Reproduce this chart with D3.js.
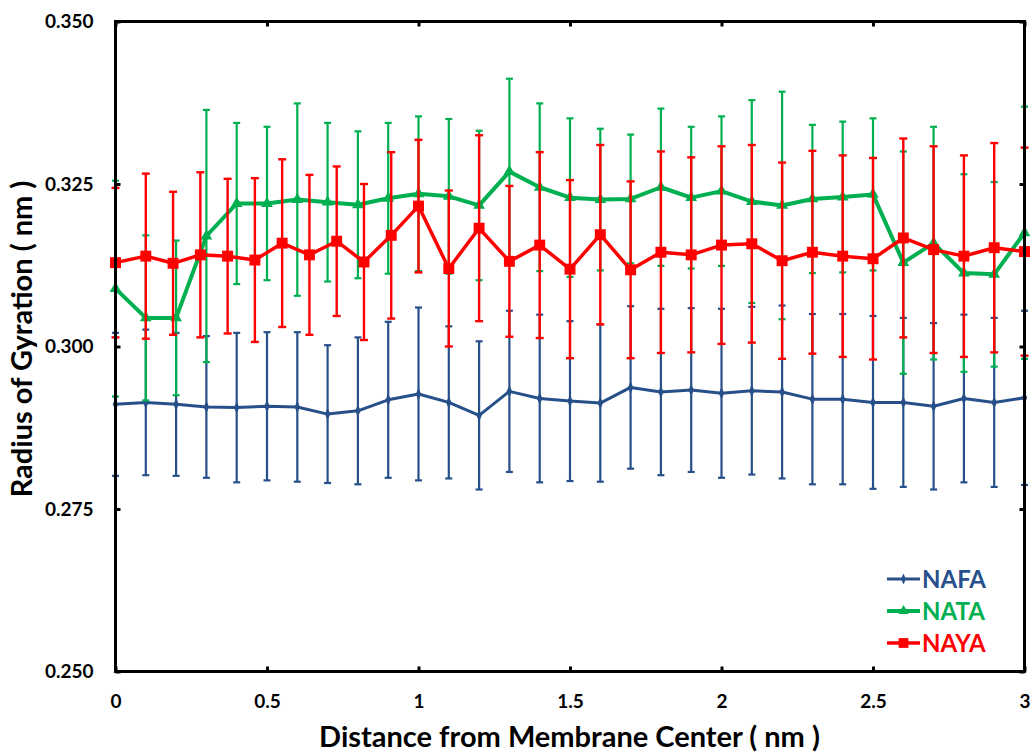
<!DOCTYPE html>
<html>
<head>
<meta charset="utf-8">
<script src="https://cdn.jsdelivr.net/npm/d3@7"></script>
<style>
  html, body { margin: 0; padding: 0; background: #fff; }
  svg { display: block; font-family: Lato, "Open Sans", sans-serif; }
</style>
</head>
<body>
<svg id="chart" width="1031" height="752"></svg>
<script>
// Distance from the membrane centre (nm) for NAFA and NATA
const distance = [0, 0.1, 0.2, 0.3, 0.4, 0.5, 0.6, 0.7, 0.8, 0.9, 1.0,
  1.1, 1.2, 1.3, 1.4, 1.5, 1.6, 1.7, 1.8, 1.9, 2.0,
  2.1, 2.2, 2.3, 2.4, 2.5, 2.6, 2.7, 2.8, 2.9, 3.0];
// NAYA was sampled on a finer grid below 1 nm
const distanceNaya = [0, 0.1, 0.19, 0.28, 0.37, 0.46, 0.55, 0.64, 0.73, 0.82, 0.91, 1.0,
  1.1, 1.2, 1.3, 1.4, 1.5, 1.6, 1.7, 1.8, 1.9, 2.0,
  2.1, 2.2, 2.3, 2.4, 2.5, 2.6, 2.7, 2.8, 2.9, 3.0];

// Radius of gyration (nm) and standard deviation
const nafa = [0.2911, 0.2914, 0.2911, 0.2907, 0.2906, 0.2908, 0.2907, 0.2896, 0.2901, 0.2918, 0.2927,
  0.2914, 0.2894, 0.2931, 0.2920, 0.2916, 0.2913, 0.2937, 0.2930, 0.2933, 0.2928,
  0.2932, 0.2930, 0.2919, 0.2919, 0.2914, 0.2914, 0.2908, 0.2920, 0.2914, 0.2921];
const nafaErr = [0.0110, 0.0112, 0.0110, 0.0109, 0.0115, 0.0114, 0.0115, 0.0106, 0.0113, 0.0120, 0.0133,
  0.0117, 0.0114, 0.0124, 0.0129, 0.0123, 0.0121, 0.0125, 0.0128, 0.0126, 0.0130,
  0.0129, 0.0133, 0.0131, 0.0131, 0.0133, 0.0130, 0.0128, 0.0129, 0.0130, 0.0134];

const nata = [0.3089, 0.3044, 0.3044, 0.3170, 0.3220, 0.3220, 0.3226, 0.3222, 0.3218, 0.3228, 0.3235,
  0.3231, 0.3217, 0.3269, 0.3245, 0.3229, 0.3226, 0.3227, 0.3245, 0.3229, 0.3239,
  0.3223, 0.3217, 0.3227, 0.3230, 0.3234, 0.3129, 0.3159, 0.3113, 0.3111, 0.3175];
const nataErr = [0.0166, 0.0127, 0.0119, 0.0194, 0.0124, 0.0118, 0.0148, 0.0122, 0.0113, 0.0116, 0.0119,
  0.0119, 0.0115, 0.0143, 0.0129, 0.0122, 0.0109, 0.0099, 0.0121, 0.0109, 0.0115,
  0.0156, 0.0175, 0.0114, 0.0116, 0.0117, 0.0171, 0.0179, 0.0152, 0.0142, 0.0194];

const naya = [0.3129, 0.3139, 0.3128, 0.3141, 0.3139, 0.3133, 0.3159, 0.3141, 0.3162, 0.3130, 0.3171, 0.3216,
  0.3120, 0.3182, 0.3131, 0.3156, 0.3119, 0.3172, 0.3118, 0.3145, 0.3141, 0.3156,
  0.3158, 0.3132, 0.3145, 0.3139, 0.3135, 0.3167, 0.3149, 0.3139, 0.3152, 0.3146];
const nayaErr = [0.0115, 0.0127, 0.0110, 0.0127, 0.0119, 0.0126, 0.0129, 0.0123, 0.0115, 0.0120, 0.0128, 0.0102,
  0.0120, 0.0143, 0.0116, 0.0143, 0.0137, 0.0138, 0.0136, 0.0155, 0.0150, 0.0152,
  0.0152, 0.0151, 0.0156, 0.0155, 0.0155, 0.0153, 0.0159, 0.0155, 0.0161, 0.0160];

const seriesNames = ["NAFA", "NATA", "NAYA"];
const xTicks = [0, 0.5, 1, 1.5, 2, 2.5, 3];
const yTicks = [0.250, 0.275, 0.300, 0.325, 0.350];

const series = [
  { name: seriesNames[0], x: distance, y: nafa, err: nafaErr, color: "#27508a",
    width: 3, errWidth: 2.2, cap: 7, symbol: d3.symbolDiamond, size: 45, scaleX: 0.75 },
  { name: seriesNames[1], x: distance, y: nata, err: nataErr, color: "#00b050",
    width: 4, errWidth: 2.2, cap: 7, symbol: d3.symbolTriangle, size: 60, scaleX: 1 },
  { name: seriesNames[2], x: distanceNaya, y: naya, err: nayaErr, color: "#ff0000",
    width: 3.5, errWidth: 2.4, cap: 8, symbol: d3.symbolSquare, size: 120, scaleX: 1 }
];

const svg = d3.select("#chart");
const plot = { left: 115.5, right: 1024.5, top: 21.5, bottom: 671.5 };

const x = d3.scaleLinear().domain([0, 3]).range([plot.left, plot.right]);
const y = d3.scaleLinear().domain([0.25, 0.35]).range([plot.bottom, plot.top]);

// Series: error bars, line, markers
series.forEach(s => {
  const g = svg.append("g");
  const pts = s.x.map((d, i) => ({ x: d, y: s.y[i], e: s.err[i] }));

  const eb = g.append("g").attr("stroke", s.color).attr("stroke-width", s.errWidth);
  pts.forEach(p => {
    const cx = x(p.x), y1 = y(p.y + p.e), y2 = y(p.y - p.e);
    eb.append("line").attr("x1", cx).attr("x2", cx).attr("y1", y1).attr("y2", y2);
    eb.append("line").attr("x1", cx - s.cap / 2).attr("x2", cx + s.cap / 2).attr("y1", y1).attr("y2", y1);
    eb.append("line").attr("x1", cx - s.cap / 2).attr("x2", cx + s.cap / 2).attr("y1", y2).attr("y2", y2);
  });

  g.append("path")
    .datum(pts)
    .attr("fill", "none")
    .attr("stroke", s.color)
    .attr("stroke-width", s.width)
    .attr("stroke-linejoin", "round")
    .attr("d", d3.line().x(d => x(d.x)).y(d => y(d.y)));

  g.selectAll("path.mk")
    .data(pts)
    .join("path")
    .attr("class", "mk")
    .attr("fill", s.color)
    .attr("transform", d => `translate(${x(d.x)},${y(d.y)}) scale(${s.scaleX},1)`)
    .attr("d", d3.symbol().type(s.symbol).size(s.size));
});

// Frame with inward ticks on all four sides
const frame = svg.append("g").attr("stroke", "#000");
frame.append("rect")
  .attr("x", plot.left).attr("y", plot.top)
  .attr("width", plot.right - plot.left).attr("height", plot.bottom - plot.top)
  .attr("fill", "none").attr("stroke-width", 3);

const bottomAxis = svg.append("g")
  .attr("transform", `translate(0,${plot.bottom})`)
  .call(d3.axisBottom(x).tickValues(xTicks).tickSize(-5).tickPadding(23).tickFormat(d3.format("")));
const topAxis = svg.append("g")
  .attr("transform", `translate(0,${plot.top})`)
  .call(d3.axisTop(x).tickValues(xTicks).tickSize(-5).tickFormat(""));
const leftAxis = svg.append("g")
  .attr("transform", `translate(${plot.left},0)`)
  .call(d3.axisLeft(y).tickValues(yTicks).tickSize(-5).tickPadding(22).tickFormat(d3.format(".3f")));
const rightAxis = svg.append("g")
  .attr("transform", `translate(${plot.right},0)`)
  .call(d3.axisRight(y).tickValues(yTicks).tickSize(-5).tickFormat(""));

[bottomAxis, topAxis, leftAxis, rightAxis].forEach(a => {
  a.select(".domain").remove();
  a.selectAll(".tick line").attr("stroke", "#000").attr("stroke-width", 3);
  a.selectAll(".tick text")
    .attr("fill", "#000")
    .style("font-family", "Lato, 'Open Sans', sans-serif")
    .style("font-size", "19px")
    .style("font-weight", "bold");
});

// Axis titles
svg.append("text")
  .attr("x", (plot.left + plot.right) / 2 - 0.5)
  .attr("y", 747)
  .attr("text-anchor", "middle")
  .style("font-size", "29px")
  .style("font-weight", "bold")
  .attr("fill", "#000")
  .text("Distance from Membrane Center ( nm )");

svg.append("text")
  .attr("transform", `translate(32,339) rotate(-90)`)
  .attr("text-anchor", "middle")
  .style("font-size", "29px")
  .style("font-weight", "bold")
  .attr("fill", "#000")
  .text("Radius of Gyration ( nm )");

// Legend
const legend = svg.append("g");
series.forEach((s, i) => {
  const ly = 579 + i * 32;
  const lg = legend.append("g");
  lg.append("line")
    .attr("x1", 887).attr("x2", 920).attr("y1", ly).attr("y2", ly)
    .attr("stroke", s.color).attr("stroke-width", s.width);
  lg.append("path")
    .attr("fill", s.color)
    .attr("transform", `translate(903.5,${ly}) scale(${s.scaleX},1)`)
    .attr("d", d3.symbol().type(s.symbol).size(s.size * 0.8));
  lg.append("text")
    .attr("x", 922).attr("y", ly)
    .attr("dy", "0.36em")
    .attr("fill", s.color)
    .style("font-size", "24px")
    .style("font-weight", "bold")
    .text(s.name);
});
</script>
</body>
</html>
